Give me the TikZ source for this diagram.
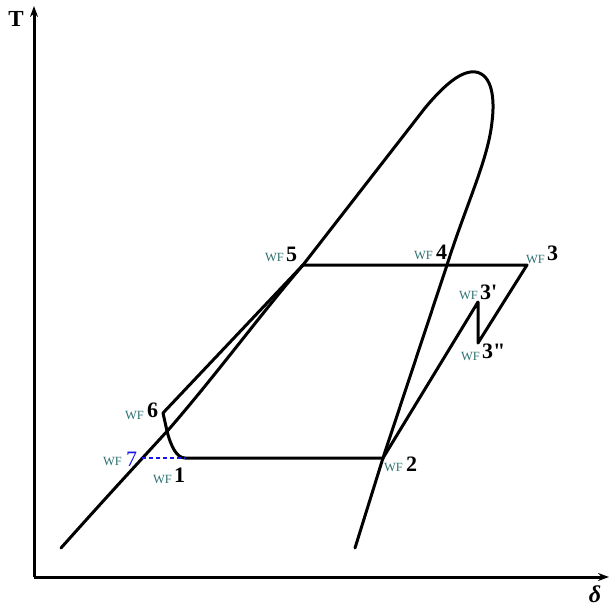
\documentclass[tikz,border=0pt]{standalone}
\usepackage{fontspec}
\setmainfont{Liberation Serif}
\usetikzlibrary{arrows.meta}
\definecolor{wfteal}{RGB}{45,112,112}
\definecolor{sevblue}{RGB}{20,20,235}
\tikzset{
  curve/.style={line width=3pt, line join=round, line cap=round},
  axis/.style={line width=3pt, -{Stealth[length=11pt,width=8pt]}},
  num/.style={font=\fontsize{22}{22}\selectfont\bfseries, inner sep=0pt},
  wf/.style={font=\fontsize{12.5}{12.5}\selectfont, text=wfteal, inner sep=0pt},
}
\newcommand{\WF}{WF}
\begin{document}
\begin{tikzpicture}[x=1pt,y=-1pt]
\useasboundingbox (0,0) rectangle (611,608);
% axes
\coordinate (O) at (34,577);
\coordinate (Ytop) at (34,6);
\coordinate (Xend) at (609,577);
\draw[axis] (O) -- (Ytop);
\draw[axis] (O) -- (Xend);
\node[font=\fontsize{23}{23}\selectfont\bfseries, inner sep=0pt] (T) at (16,19) {T};
\node[font=\fontsize{24}{24}\selectfont\bfseries\itshape, inner sep=0pt] (S) at (595,594) {δ};
% saturation dome
\draw[curve] (61,548) .. controls (110,493) and (150,450) .. (170,428)
  .. controls (220,370) and (260,315) .. (303,265)
  -- (425,108)
  .. controls (445,84) and (462,70) .. (476,72)
  .. controls (492,75) and (495,98) .. (492,122)
  .. controls (488,160) and (466,205) .. (447,265)
  -- (383,458) -- (355,548);
% cycle points
\coordinate (p1) at (185,458);
\coordinate (p2) at (383,458);
\coordinate (p3) at (527,265);
\coordinate (p3a) at (478,302);
\coordinate (p3b) at (478,343);
\coordinate (p4) at (447,265);
\coordinate (p5) at (303,265);
\coordinate (p6) at (163,413);
\coordinate (p6b) at (167,431);
\coordinate (p7) at (142,458);
% cycle
\draw[curve] (p1) -- (p2) -- (p3a) -- (p3b) -- (p3) -- (p5) -- (p6) -- (p6b)
  .. controls (171,447) and (177,458) .. (p1);
\draw[sevblue, line width=1.8pt, dash pattern=on 4pt off 3pt] (p7) -- (p1);
% labels
\node[wf, anchor=base east] (w5) at (284,261) {\WF};
\node[num, anchor=base west] (n5) at (286,261) {5};
\node[wf, anchor=base east] (w4) at (433,259) {\WF};
\node[num, anchor=base west] (n4) at (436,259) {4};
\node[wf, anchor=base east] (w3) at (545,263) {\WF};
\node[num, anchor=base west] (n3) at (547,260) {3};
\node[wf, anchor=base east] (w3a) at (478,299) {\WF};
\node[num, anchor=base west] (n3a) at (480,299) {3\textquotesingle};
\node[wf, anchor=base east] (w3b) at (480,360) {\WF};
\node[num, anchor=base west] (n3b) at (482,358) {3\textquotedbl};
\node[wf, anchor=base east] (w6) at (144,419) {\WF};
\node[num, anchor=base west] (n6) at (147,417) {6};
\node[wf, anchor=base east] (w7) at (122,465) {\WF};
\node[num, anchor=base west, text=sevblue, font=\fontsize{22}{22}\selectfont] (n7) at (126,466) {7};
\node[wf, anchor=base east] (w1) at (172,483) {\WF};
\node[num, anchor=base west] (n1) at (174,482) {1};
\node[wf, anchor=base east] (w2) at (403,471) {\WF};
\node[num, anchor=base west] (n2) at (406,471) {2};
\end{tikzpicture}
\end{document}
